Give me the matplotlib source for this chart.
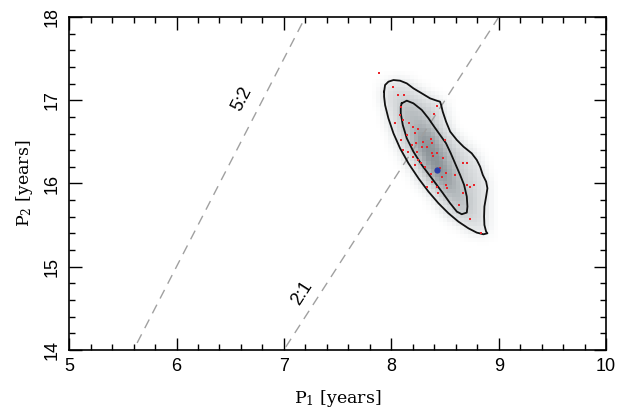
import numpy as np
import matplotlib
matplotlib.use('Agg')
import matplotlib.pyplot as plt
from matplotlib.path import Path
from matplotlib.colors import LinearSegmentedColormap
from matplotlib.ticker import MultipleLocator

plt.rcParams['font.family'] = ['DejaVu Serif']
plt.rcParams['mathtext.fontset'] = 'dejavuserif'

# outer (lower-confidence) contour, P1 / P2 in years
outer_p1 = [7.933, 7.942, 7.973, 8.020, 8.082, 8.144, 8.206, 8.284, 8.361, 8.423, 8.454,
            8.464, 8.479, 8.510, 8.548, 8.610, 8.672, 8.749, 8.796, 8.827, 8.852, 8.883,
            8.895, 8.883, 8.867, 8.864, 8.867, 8.883, 8.895, 8.858, 8.796, 8.718, 8.625,
            8.532, 8.439, 8.346, 8.253, 8.160, 8.082, 8.020, 7.973, 7.942, 7.933]
outer_p2 = [17.103, 17.183, 17.223, 17.243, 17.235, 17.203, 17.143, 17.083, 17.023, 16.995, 16.983,
            16.943, 16.863, 16.743, 16.623, 16.523, 16.442, 16.362, 16.282, 16.202, 16.102, 16.022,
            15.942, 15.842, 15.722, 15.602, 15.501, 15.421, 15.401, 15.389, 15.409, 15.461, 15.541,
            15.642, 15.762, 15.902, 16.062, 16.242, 16.422, 16.603, 16.783, 16.943, 17.043]

# inner contour
inner_p1 = [8.097, 8.144, 8.206, 8.284, 8.346, 8.399, 8.454, 8.510, 8.554, 8.594, 8.641,
            8.678, 8.703, 8.709, 8.703, 8.656, 8.610, 8.548, 8.470, 8.377, 8.284, 8.206,
            8.144, 8.107, 8.088, 8.088]
inner_p2 = [16.963, 16.995, 16.963, 16.883, 16.783, 16.683, 16.583, 16.482, 16.362, 16.242, 16.102,
            15.982, 15.842, 15.722, 15.650, 15.630, 15.662, 15.762, 15.902, 16.062, 16.222, 16.382,
            16.543, 16.703, 16.843, 16.923]

# darkest core of the distribution
core_p1 = [8.222, 8.315, 8.439, 8.532, 8.548, 8.485, 8.377, 8.284, 8.222]
core_p2 = [16.703, 16.643, 16.402, 16.122, 15.922, 15.922, 16.122, 16.362, 16.563]

# individual solutions (red)
sol_p1 = [7.887, 8.020, 8.063, 8.119, 8.091, 8.423, 8.399, 8.082, 8.113, 8.035, 8.169,
          8.206, 8.253, 8.222, 8.144, 8.368, 8.299, 8.501, 8.088, 8.231, 8.191, 8.284,
          8.330, 8.377, 8.113, 8.160, 8.237, 8.377, 8.386, 8.479, 8.423, 8.206, 8.253,
          8.274, 8.222, 8.315, 8.454, 8.510, 8.470, 8.594, 8.368, 8.665, 8.703, 8.377,
          8.423, 8.330, 8.510, 8.523, 8.703, 8.734, 8.774, 8.665, 8.439, 8.634, 8.734, 8.836]
sol_p2 = [17.33, 17.155, 17.067, 17.067, 16.923, 16.931, 16.839, 16.823, 16.763, 16.723, 16.731,
          16.675, 16.651, 16.603, 16.583, 16.531, 16.503, 16.523, 16.523, 16.491, 16.463, 16.443,
          16.434, 16.482, 16.402, 16.382, 16.382, 16.370, 16.330, 16.310, 16.362, 16.322, 16.282,
          16.242, 16.222, 16.202, 16.182, 16.122, 16.082, 16.102, 16.110, 16.250, 16.250, 16.022,
          15.962, 15.962, 15.982, 15.942, 15.982, 15.962, 15.982, 15.882, 15.882, 15.742, 15.570, 15.401]

best_p1 = [8.43]
best_p2 = [16.16]

# period ratios drawn as dashed lines
ratios = [2.5, 2.0]
ratio_labels = ['5:2', '2:1']
label_p1 = [6.61, 7.17]
label_p2 = [17.02, 14.68]


def density(xs, ys):
    gx, gy = np.meshgrid(xs, ys)
    pts = np.column_stack([gx.ravel(), gy.ravel()])
    d = np.zeros(len(pts))
    for (px, py), w in zip([(outer_p1, outer_p2), (inner_p1, inner_p2), (core_p1, core_p2)],
                           [1.3, 1.0, 1.5]):
        d += w * Path(np.column_stack([px, py])).contains_points(pts)
    d = d.reshape(gx.shape)
    k = np.array([1, 2, 3, 4, 3, 2, 1], float)
    k /= k.sum()
    for axis in (0, 1):
        d = np.apply_along_axis(lambda r: np.convolve(r, k, mode='same'), axis, d)
    return d


fig = plt.figure(figsize=(6.4, 4.16), dpi=100)
ax = fig.add_axes([0.108, 0.159, 0.839, 0.8])

xs = np.arange(7.5, 9.4, 0.04)
ys = np.arange(14.9, 17.7, 0.05)
cmap = LinearSegmentedColormap.from_list(
    'g', [(0, '#ffffff'), (0.12, '#eceeef'), (0.35, '#d6d9db'), (0.6, '#b8bdc0'), (1, '#848c91')])
ax.imshow(density(xs, ys), extent=[xs[0], xs[-1], ys[0], ys[-1]], origin='lower',
          cmap=cmap, vmin=0, vmax=3.6, aspect='auto', interpolation='nearest', zorder=1)

ax.plot(outer_p1 + outer_p1[:1], outer_p2 + outer_p2[:1], color='#111111', lw=1.3, zorder=3)
ax.plot(inner_p1 + inner_p1[:1], inner_p2 + inner_p2[:1], color='#111111', lw=1.3, zorder=3)

line_x = np.array([5.0, 10.0])
for r, lab, lx, ly in zip(ratios, ratio_labels, label_p1, label_p2):
    ax.plot(line_x, r * line_x, color='#a0a0a0', lw=1.0, dashes=(7, 5), zorder=2)
    ang = np.degrees(np.arctan(r * (0.8 * 416 / 4) / (0.839 * 640 / 5)))
    ax.text(lx, ly, lab, rotation=ang, ha='center', va='center', fontsize=13,
            fontfamily='Liberation Sans', zorder=4)

ax.plot(sol_p1, sol_p2, 's', color='#e8242a', ms=2.0, mew=0, zorder=4)
ax.plot(best_p1, best_p2, 'o', color='#2b3fa8', ms=4.5, mew=0, zorder=5)

ax.set_xlim(5, 10)
ax.set_ylim(14, 18)
ax.xaxis.set_major_locator(MultipleLocator(1))
ax.xaxis.set_minor_locator(MultipleLocator(0.2))
ax.yaxis.set_major_locator(MultipleLocator(1))
ax.yaxis.set_minor_locator(MultipleLocator(0.2))
ax.tick_params(which='both', direction='in', top=True, right=True, labelsize=13, width=1.0)
ax.tick_params(which='major', length=9, pad=6)
ax.tick_params(which='minor', length=4.5)
for lab in ax.get_xticklabels() + ax.get_yticklabels():
    lab.set_fontfamily('Liberation Sans')
for lab in ax.get_yticklabels():
    lab.set_rotation(90)
    lab.set_va('center')
for s in ax.spines.values():
    s.set_linewidth(1.2)

ax.set_xlabel(r'P$_1$ [years]', fontsize=12.5, labelpad=9)
ax.set_ylabel(r'P$_2$ [years]', fontsize=12.5, labelpad=6)

fig.savefig('out.png', dpi=100)
